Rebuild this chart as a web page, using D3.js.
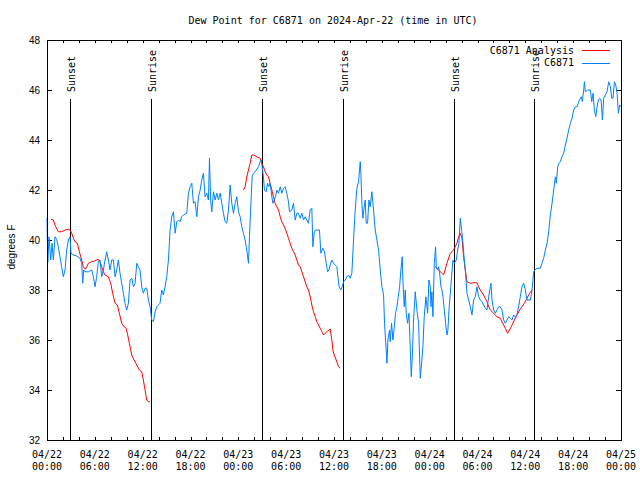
<!DOCTYPE html>
<html>
<head>
<meta charset="utf-8">
<script src="https://cdn.jsdelivr.net/npm/d3@7"></script>
<style>
  html, body { margin: 0; padding: 0; background: #fff; }
  svg { display: block; }
  .mono { font-family: "DejaVu Sans Mono", "Liberation Mono", monospace; font-size: 10px; fill: #000; }
  .sans { font-family: "Liberation Sans", Arial, sans-serif; font-size: 10px; fill: #000; }
</style>
</head>
<body>
<svg id="chart" width="640" height="480"></svg>
<script>
// ---- data (hours after 2024-04-22 00:00 UTC) ----
const titleText = "Dew Point for C6871 on 2024-Apr-22 (time in UTC)";
const yLabel = "degrees F";
const seriesNames = ["C6871 Analysis", "C6871"];
const yTicks = [32, 34, 36, 38, 40, 42, 44, 46, 48];
const xLabelHours = [0, 6, 12, 18, 24, 30, 36, 42, 48, 54, 60, 66, 72];

const sunEvents = [
  { h: 2.9, label: "Sunset" }, { h: 13.1, label: "Sunrise" },
  { h: 27.0, label: "Sunset" }, { h: 37.1, label: "Sunrise" },
  { h: 51.1, label: "Sunset" }, { h: 61.1, label: "Sunrise" }
];

const obsHours = [0,0.1,0.25,0.46,0.63,0.8,1.0,1.21,1.42,1.63,1.84,2.05,2.26,2.47,2.68,2.89,3.01,3.31,3.72,4.14,4.35,4.48,4.6,4.77,5.19,5.61,5.82,6.03,6.23,6.44,6.65,6.86,7.07,7.28,7.49,7.7,7.91,8.12,8.33,8.54,8.74,8.95,9.16,9.37,9.58,9.79,10.0,10.21,10.42,10.63,10.84,11.05,11.26,11.46,11.67,11.88,12.09,12.3,12.51,12.72,12.93,13.14,13.35,13.56,13.77,14.18,14.39,14.6,14.81,15.02,15.23,15.44,15.65,15.86,16.07,16.28,16.49,16.69,16.9,17.11,17.53,17.74,17.95,18.16,18.37,18.58,18.79,19.0,19.21,19.41,19.62,19.83,20.04,20.25,20.38,20.54,20.67,20.88,21.09,21.3,21.51,21.72,21.92,22.13,22.34,22.55,22.76,22.97,23.18,23.39,23.6,23.81,24.02,24.23,
24.44,24.64,24.85,25.06,25.27,25.4,25.56,25.73,25.9,26.1,26.53,26.74,26.86,26.99,27.15,27.28,27.49,27.66,27.82,27.99,28.2,28.33,28.49,28.66,28.83,29.04,29.25,29.46,29.67,29.87,30.08,30.29,30.42,30.71,30.92,31.13,31.34,31.55,31.76,31.97,32.18,32.38,32.59,32.8,33.01,33.22,33.35,33.51,33.68,33.93,34.18,34.35,34.6,34.81,35.02,35.19,35.36,35.52,35.73,35.94,36.15,36.36,36.49,36.65,36.86,37.03,37.2,37.41,37.62,37.82,38.03,38.24,38.45,38.66,38.87,39.08,39.29,39.37,39.5,39.62,39.79,39.92,40.04,40.21,40.38,40.54,40.75,40.96,41.17,41.38,41.59,41.8,42.01,42.22,42.34,42.55,42.64,42.76,42.97,43.05,43.22,43.39,43.56,43.72,43.89,44.06,44.23,44.39,44.56,44.64,44.81,44.94,45.06,45.23,45.4,45.56,45.69,45.82,45.98,46.19,46.4,46.61,46.82,46.99,47.15,47.32,47.53,47.74,47.91,48.08,
48.16,48.28,48.41,48.58,48.74,48.83,49.0,49.12,49.25,49.42,49.54,49.67,49.83,50.0,50.17,50.29,50.42,50.59,50.75,50.92,51.09,51.34,51.51,51.67,51.84,52.01,52.18,52.34,52.47,52.68,52.89,53.1,53.31,53.51,53.72,53.93,54.14,54.35,54.56,54.77,54.98,55.19,55.4,55.61,55.69,55.82,56.03,56.23,56.44,56.65,56.86,57.07,57.28,57.49,57.7,57.91,58.12,58.33,58.54,58.74,58.95,59.16,59.37,59.58,59.79,60.0,60.21,60.63,60.84,61.05,61.17,61.46,61.88,62.09,62.3,62.51,62.72,62.93,63.14,63.35,63.56,63.77,63.89,64.06,64.23,64.39,64.6,64.81,65.02,65.23,65.44,65.65,65.86,66.07,66.28,66.49,66.69,66.9,67.03,67.15,67.32,67.41,67.53,67.82,68.16,68.33,68.49,68.66,68.83,69.0,69.16,69.33,69.5,69.67,69.83,70.04,70.25,70.46,70.67,70.84,71.0,71.17,71.34,71.51,71.67,71.84,72.0];

const obsValues = [40.9,39.1,40.13,39.2,39.87,39.2,40.13,40.03,39.73,39.33,38.93,38.53,38.8,39.6,40.0,40.13,39.47,39.4,39.36,39.27,39.07,38.27,38.8,38.73,38.73,38.8,38.53,38.13,38.53,39.13,39.2,38.53,38.8,39.2,39.53,39.2,38.8,39.2,39.2,38.53,38.8,39.2,38.67,38.27,37.87,37.47,37.2,37.47,38.4,38.47,38.13,38.27,39.07,38.93,38.8,38.13,37.87,38.07,38.07,37.6,37.33,36.8,36.73,37.13,37.33,37.47,38.0,37.8,38.13,38.53,39.2,40.4,40.93,41.13,40.27,40.73,40.8,40.73,40.93,41.0,41.07,41.87,42.13,42.27,41.47,41.53,40.93,41.73,42.0,42.4,42.67,41.73,41.87,41.6,43.27,41.53,41.13,41.93,41.6,41.87,41.6,41.87,41.47,41.07,40.73,40.67,41.2,42.2,41.47,41.07,41.47,41.73,41.13,40.93,
40.53,40.27,40.0,39.6,39.07,40.13,41.33,42.53,42.67,42.73,42.93,43.13,43.2,42.93,42.53,42.0,41.93,42.27,42.13,42.27,41.73,41.47,41.6,41.73,42.0,41.87,42.13,41.87,42.07,42.13,41.87,41.53,41.13,41.2,41.47,40.8,41.07,41.07,40.87,41.07,40.8,40.93,40.8,40.67,41.2,41.27,39.73,40.27,40.4,40.4,40.4,39.47,39.67,39.53,39.07,38.73,38.8,39.0,39.2,39.07,39.0,38.93,38.53,38.13,38.0,38.13,38.33,38.4,38.53,38.6,38.47,38.67,40.0,41.2,42.07,42.33,43.13,42.67,41.47,40.87,41.33,41.6,40.67,40.67,41.6,41.33,41.93,41.2,40.4,40.0,39.6,38.8,38.13,37.8,36.67,35.6,35.07,36.0,36.4,35.93,36.67,36.0,36.53,37.07,37.33,37.73,38.13,38.8,39.33,38.4,37.33,38.0,37.07,36.67,37.07,35.73,34.53,35.33,36.8,37.93,37.2,36.67,34.47,35.07,35.73,36.93,37.73,37.07,38.4,38.13,
37.33,37.93,36.93,39.07,39.73,38.93,38.8,38.93,38.67,38.13,38.0,37.73,37.2,36.67,36.2,36.4,37.2,37.87,38.53,39.2,39.07,39.2,39.6,39.87,40.87,40.4,39.87,39.2,38.8,37.87,37.6,37.33,37.0,37.6,37.73,38.13,37.73,37.6,37.53,37.4,37.27,37.2,37.73,38.13,38.27,37.6,37.2,37.07,37.2,37.33,37.33,37.2,36.8,36.67,36.8,36.93,36.87,36.8,37.0,36.93,37.0,37.33,37.73,38.13,38.27,38.0,37.6,37.6,38.0,38.73,38.8,38.87,38.87,39.07,39.27,39.6,39.87,40.33,41.0,41.47,42.0,42.53,42.27,42.93,43.07,43.13,43.33,43.47,43.8,44.07,44.4,44.67,44.87,45.2,45.33,45.33,45.53,45.67,45.73,45.53,46.0,46.33,45.93,46.0,46.0,45.53,45.87,45.2,44.93,45.33,45.6,45.67,45.6,44.8,45.67,45.8,45.93,46.33,46.13,45.67,45.67,46.33,46.2,45.87,45.07,45.4,45.33];

// analysis series: null marks a gap
const anaHours = [0.5,0.79,1.0,1.42,1.84,2.26,2.68,2.89,3.1,3.31,3.51,3.81,4.06,4.35,4.56,4.81,4.98,5.19,5.61,6.03,6.44,6.65,6.86,7.07,7.28,7.7,7.99,8.24,8.54,8.83,9.08,9.37,9.67,9.92,10.08,10.33,10.63,10.92,11.26,11.59,11.88,12.09,12.3,12.51,12.72,12.93,
null,
24.64,24.85,25.06,25.27,25.48,25.69,25.9,26.32,26.74,26.95,27.15,27.36,27.57,27.78,27.99,28.2,28.41,28.62,28.83,29.04,29.25,29.46,29.67,29.87,30.08,30.29,30.5,30.71,30.92,31.13,31.34,31.55,31.76,31.97,32.18,32.38,32.59,32.8,33.01,33.22,33.43,33.64,33.85,34.06,34.27,34.48,34.69,34.9,35.1,35.52,35.73,35.86,36.02,36.28,36.57,36.78,
null,
48.69,49.12,49.54,49.75,50.17,50.59,51.0,51.42,51.63,51.84,52.05,52.26,52.47,52.68,53.1,53.51,53.93,54.14,54.35,54.77,55.19,55.4,55.61,56.03,56.44,56.86,57.07,57.28,57.49,57.78,58.03,58.33,58.62,58.95,59.29,59.58,59.87,60.21,60.54,60.84];

const anaValues = [40.83,40.8,40.6,40.33,40.33,40.4,40.43,40.4,40.27,40.07,39.93,39.87,39.53,39.2,38.93,38.83,38.93,39.07,39.13,39.17,39.23,39.13,38.93,38.73,38.6,38.53,38.27,37.87,37.47,37.4,37.07,36.67,36.53,36.47,36.27,35.87,35.4,35.2,35.0,34.8,34.73,34.4,34.0,33.6,33.53,33.53,
null,
42.0,42.13,42.53,42.8,43.07,43.4,43.4,43.33,43.27,43.07,42.93,42.73,42.6,42.53,42.27,42.0,41.73,41.47,41.33,41.2,40.93,40.73,40.6,40.47,40.27,40.07,39.87,39.67,39.53,39.4,39.2,39.0,38.93,38.73,38.53,38.33,38.13,38.0,37.73,37.4,37.13,36.93,36.73,36.6,36.47,36.33,36.2,36.27,36.33,36.44,36.0,35.6,35.4,35.2,34.93,34.87,
null,
38.93,38.8,38.67,38.6,39.07,39.47,39.6,39.87,40.13,40.27,40.07,39.33,38.8,38.33,38.27,38.29,38.29,38.13,38.0,37.8,37.53,37.33,37.2,37.07,36.93,36.87,36.73,36.6,36.47,36.27,36.4,36.6,36.8,37.0,37.2,37.33,37.47,37.67,37.87,38.0];

// ---- drawing ----
const t0 = Date.UTC(2024, 3, 22, 0, 0);
const toDate = h => new Date(t0 + h * 3600000);

const svg = d3.select("#chart");
const pLeft = 47, pRight = 621, pTop = 40, pBottom = 440;

const x = d3.scaleUtc().domain([toDate(0), toDate(72)]).range([pLeft, pRight]);
const y = d3.scaleLinear().domain([32, 48]).range([pBottom, pTop]);

const redColor = "#ff0000", blueColor = "#0080ff";

// title
svg.append("text").attr("class", "mono")
  .attr("x", 333).attr("y", 24).attr("text-anchor", "middle").text(titleText);

// x ticks (every 2h) bottom and top, inward
const xt = d3.utcHour.every(2).range(toDate(0), toDate(72.01));
const tickG = svg.append("g").attr("shape-rendering", "crispEdges").attr("stroke", "#000");
tickG.selectAll(null).data(xt).enter().append("line")
  .attr("x1", d => Math.round(x(d)) + 0.5).attr("x2", d => Math.round(x(d)) + 0.5)
  .attr("y1", pBottom).attr("y2", pBottom - 3);
tickG.selectAll(null).data(xt).enter().append("line")
  .attr("x1", d => Math.round(x(d)) + 0.5).attr("x2", d => Math.round(x(d)) + 0.5)
  .attr("y1", pTop).attr("y2", pTop + 3);
// y ticks left and right
tickG.selectAll(null).data(yTicks).enter().append("line")
  .attr("x1", pLeft).attr("x2", pLeft + 5)
  .attr("y1", d => Math.round(y(d)) + 0.5).attr("y2", d => Math.round(y(d)) + 0.5);
tickG.selectAll(null).data(yTicks).enter().append("line")
  .attr("x1", pRight).attr("x2", pRight - 5)
  .attr("y1", d => Math.round(y(d)) + 0.5).attr("y2", d => Math.round(y(d)) + 0.5);

// y tick labels
svg.append("g").selectAll("text").data(yTicks).join("text")
  .attr("class", "sans").attr("x", 40).attr("y", d => y(d))
  .attr("text-anchor", "end").attr("dominant-baseline", "central")
  .text(d => d);

// x labels (two lines)
const fmtDate = d3.utcFormat("%m/%d"), fmtTime = d3.utcFormat("%H:%M");
const xl = svg.append("g").selectAll("text").data(xLabelHours.map(toDate)).join("text")
  .attr("class", "mono").attr("text-anchor", "middle");
xl.append("tspan").attr("x", d => x(d)).attr("y", 458).text(d => fmtDate(d));
xl.append("tspan").attr("x", d => x(d)).attr("y", 470).text(d => fmtTime(d));

// y axis label
svg.append("text").attr("class", "sans")
  .attr("transform", "translate(15,247) rotate(-90)")
  .attr("text-anchor", "middle").text(yLabel);

// sunrise / sunset lines
const sunG = svg.append("g");
sunG.selectAll("line").data(sunEvents).join("line")
  .attr("shape-rendering", "crispEdges").attr("stroke", "#000")
  .attr("x1", d => Math.round(x(toDate(d.h))) + 0.5).attr("x2", d => Math.round(x(toDate(d.h))) + 0.5)
  .attr("y1", pBottom).attr("y2", 99);
sunG.selectAll("text").data(sunEvents).join("text")
  .attr("class", "mono").attr("text-anchor", "start")
  .attr("transform", d => `translate(${Math.round(x(toDate(d.h))) + 4.5},92) rotate(-90)`)
  .text(d => d.label);

// series lines
const lineGen = d3.line()
  .defined(d => d[0] !== null && d[1] !== null)
  .x(d => x(toDate(d[0]))).y(d => y(d[1]));

svg.append("path")
  .datum(anaHours.map((h, i) => [h, anaValues[i]]))
  .attr("fill", "none").attr("stroke", redColor).attr("stroke-width", 1)
  .attr("d", lineGen);

svg.append("path")
  .datum(obsHours.map((h, i) => [h, obsValues[i]]))
  .attr("fill", "none").attr("stroke", blueColor).attr("stroke-width", 1)
  .attr("d", lineGen);

// border
svg.append("rect").attr("x", pLeft + 0.5).attr("y", pTop + 0.5)
  .attr("width", pRight - pLeft).attr("height", pBottom - pTop)
  .attr("fill", "none").attr("stroke", "#000").attr("shape-rendering", "crispEdges");

// legend
const legend = svg.append("g");
[redColor, blueColor].forEach((c, i) => {
  const ly = 50 + i * 12.5;
  legend.append("text").attr("class", "mono")
    .attr("x", 574).attr("y", ly + 3.5).attr("text-anchor", "end").text(seriesNames[i]);
  legend.append("line").attr("x1", 582).attr("x2", 610)
    .attr("y1", Math.round(ly) + 0.5).attr("y2", Math.round(ly) + 0.5)
    .attr("stroke", c).attr("shape-rendering", "crispEdges");
});
</script>
</body>
</html>
